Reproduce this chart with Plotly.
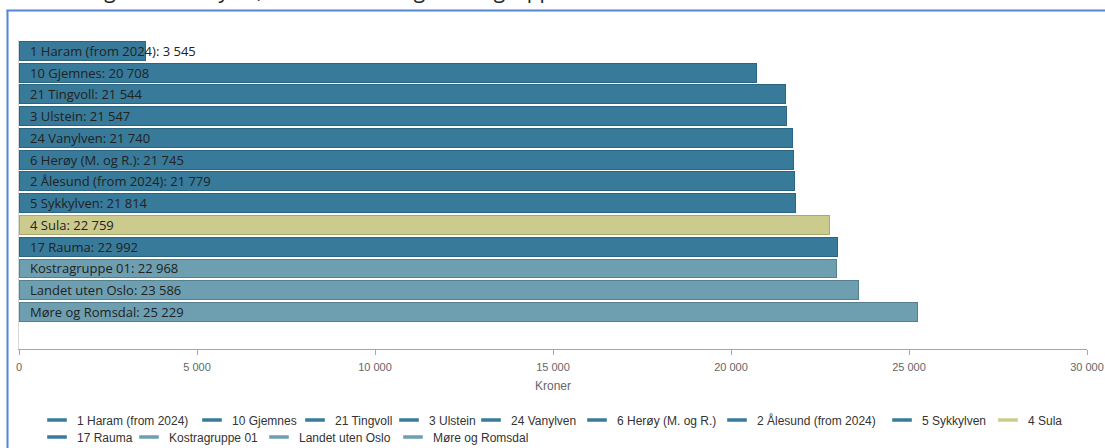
import plotly.graph_objects as go

# Series shown, top to bottom
names = [
    "1 Haram (from 2024)", "10 Gjemnes", "21 Tingvoll", "3 Ulstein", "24 Vanylven",
    "6 Herøy (M. og R.)", "2 Ålesund (from 2024)", "5 Sykkylven", "4 Sula", "17 Rauma",
    "Kostragruppe 01", "Landet uten Oslo", "Møre og Romsdal",
]
values = [3545, 20708, 21544, 21547, 21740, 21745, 21779, 21814, 22759, 22992, 22968, 23586, 25229]
kinds = ["kommune"] * 8 + ["valgt", "kommune", "ref", "ref", "ref"]

tick_vals = [0, 5000, 10000, 15000, 20000, 25000, 30000]
tick_text = ["0", "5 000", "10 000", "15 000", "20 000", "25 000", "30 000"]

fill = {"kommune": "#377a99", "valgt": "#cbcb8e", "ref": "#6d9fb1"}
edge = {"kommune": "#2c6580", "valgt": "#a9a96f", "ref": "#567f8f"}

# legend layout: where each entry's text starts (px) and the row's centre line (px)
legend_text_x = [77, 232, 335, 429, 511, 617, 757, 922, 1028, 77, 169, 299, 433]
legend_row_y = [420] * 9 + [437] * 4


def fmt(v):
    return f"{v:,}".replace(",", " ")


W, H = 1105, 448
L, R, T, B = 19, 18, 40, 99
PW, PH = W - L - R, H - T - B


def px_x(p):
    return (p - L) / PW


def px_y(p):
    return 1 - (p - T) / PH


fig = go.Figure()
for n, v, k in zip(names, values, kinds):
    fig.add_trace(go.Bar(
        x=[v], y=[n], orientation="h", name=n, showlegend=False,
        marker=dict(color=fill[k], line=dict(color=edge[k], width=1)),
        hoverinfo="x+y",
    ))

legend_layouts = {}
for i, (n, k) in enumerate(zip(names, kinds)):
    key = "legend" if i == 0 else f"legend{i + 1}"
    fig.add_trace(go.Scatter(
        x=[None], y=[None], name=n, mode="markers", legend=key,
        marker=dict(symbol="line-ew", size=14, color=fill[k],
                    line=dict(color=fill[k], width=3.5)),
    ))
    legend_layouts[key] = dict(
        orientation="h", x=px_x(legend_text_x[i] - 40), xanchor="left",
        y=px_y(legend_row_y[i]), yanchor="middle",
        font=dict(family="Liberation Sans, Arial", size=12, color="#333333"),
        itemwidth=30, bgcolor="rgba(0,0,0,0)", borderwidth=0,
    )

# value labels inside the bars, starting at the bar base
for n, v in zip(names, values):
    fig.add_annotation(
        x=0, y=n, xref="x", yref="y", text=f"{n}: {fmt(v)}",
        xanchor="left", yanchor="middle", xshift=9, showarrow=False,
        font=dict(family="Open Sans", size=13, color="#222222"),
    )

# heading (cut by the top edge of the frame)
fig.add_annotation(
    x=px_x(566), y=px_y(6), xref="paper", yref="paper",
    text="Netto driftsutgifter per innbyggar, kommunar i Møre og Romsdal fylke, landet – Oslo og Kostragruppa",
    xanchor="right", yanchor="bottom", showarrow=False,
    font=dict(family="Open Sans", size=21, color="#222222"),
)

# container frame
fig.add_shape(type="line", xref="paper", yref="paper",
              x0=px_x(7.5), x1=px_x(7.5), y0=px_y(10), y1=px_y(H + 5),
              line=dict(color="#5585d3", width=2))
fig.add_shape(type="line", xref="paper", yref="paper",
              x0=px_x(6.5), x1=px_x(W + 5), y0=px_y(10.5), y1=px_y(10.5),
              line=dict(color="#5585d3", width=2))

fig.update_layout(
    width=W, height=H,
    margin=dict(l=L, r=R, t=T, b=B, pad=0, autoexpand=False),
    paper_bgcolor="white", plot_bgcolor="white",
    barmode="stack", bargap=0.13,
    font=dict(family="Liberation Sans, Arial", size=12, color="#333333"),
    xaxis=dict(
        range=[0, 30000], tickvals=tick_vals, ticktext=tick_text,
        showgrid=False, zeroline=False, showline=True, linecolor="#a6a6a6", linewidth=1,
        ticks="outside", ticklen=5, tickcolor="#a6a6a6", ticklabelstandoff=3,
        tickfont=dict(family="Liberation Sans, Arial", size=11, color="#666666"),
        title=dict(text="Kroner", font=dict(family="Liberation Sans, Arial", size=12, color="#666666"), standoff=9),
    ),
    yaxis=dict(
        categoryorder="array", categoryarray=names,
        range=[13.7, -0.5], showticklabels=False, showgrid=False, zeroline=False,
        showline=True, linecolor="#d8d8d8", linewidth=1, ticks="",
    ),
    showlegend=True,
    **legend_layouts,
)

fig.write_html("out.html")
